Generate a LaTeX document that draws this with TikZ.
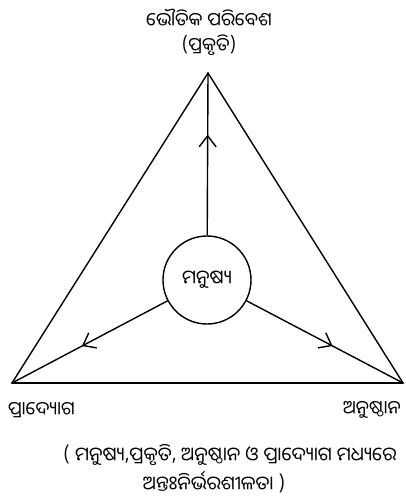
\documentclass[tikz,border=0pt]{standalone}
\usepackage{fontspec}
\newfontfamily\oriya[Script=Oriya]{Noto Sans Oriya UI}
\usetikzlibrary{arrows.meta, decorations.markings}
\tikzset{
  side/.style={line width=1.4pt, color=black},
  base/.style={line width=2.4pt, color=black},
  lbl/.style={font=\oriya\fontsize{18.5pt}{22pt}\selectfont, inner sep=0pt},
  caplbl/.style={font=\oriya\fontsize{19pt}{22pt}\selectfont, inner sep=0pt},
  midarrow/.style={line width=1.4pt, postaction={decorate},
    decoration={markings,
      mark=at position #1 with {\arrow{Straight Barb[length=11pt, width=17pt, line width=1.4pt]}}}}
}

\begin{document}
\begin{tikzpicture}[x=1pt, y=-1pt,
  hub/.style={circle, draw, line width=1.4pt, minimum size=88pt, inner sep=0pt,
    font=\oriya\fontsize{19pt}{22pt}\selectfont}
]
\useasboundingbox (0,0) rectangle (406,500);

%--- corners of the triangle ---
\coordinate (apex) at (208,73);
\coordinate (lft) at (12,383);
\coordinate (rgt) at (403,383);
\draw[side, line join=miter] (lft) -- (apex) -- (rgt);
\draw[base, line cap=round] (lft) -- (rgt);

%--- centre ---
\node[hub] (man) at (207,280) {ମନୁଷ୍ୟ};
\draw[midarrow=0.62] (man) -- (apex);
\draw[midarrow=0.55] (man) -- (lft);
\draw[midarrow=0.55] (man) -- (rgt);

%--- labels ---
\node[lbl] (env) at (209,18) {ଭୌତିକ ପରିବେଶ};
\node[lbl] (nat) at (209,45) {(ପ୍ରକୃତି)};
\node[lbl, anchor=west] (tech) at (8,410) {ପ୍ରାଦ୍ୟୋଗ};
\node[lbl, anchor=east] (inst) at (401,410) {ଅନୁଷ୍ଠାନ};

% caption
\node[caplbl] (cap1) at (230,455) {( ମନୁଷ୍ୟ,ପ୍ରକୃତି, ଅନୁଷ୍ଠାନ ଓ ପ୍ରାଦ୍ୟୋଗ ମଧ୍ୟରେ};
\node[caplbl] (cap2) at (214,482) {ଅନ୍ତଃନିର୍ଭରଶୀଳତା )};
\end{tikzpicture}
\end{document}
